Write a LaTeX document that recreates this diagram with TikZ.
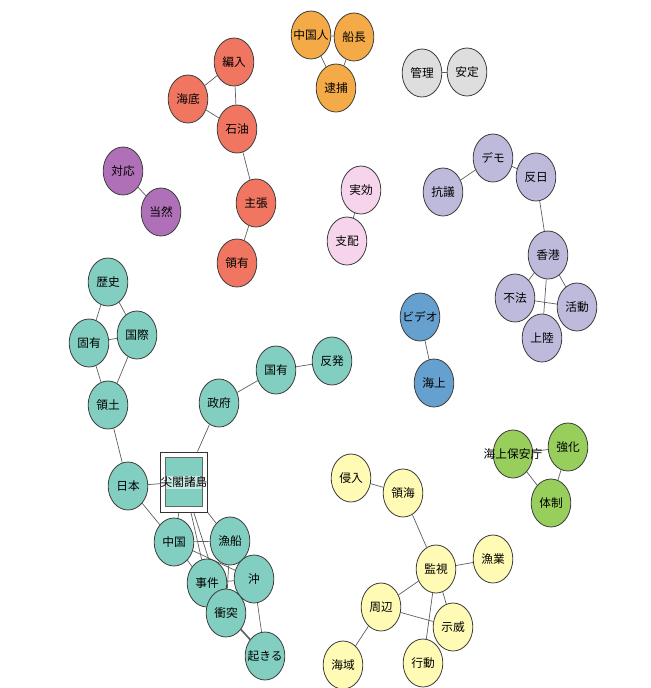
\documentclass[tikz,border=0pt]{standalone}
\usepackage{fontspec}
\newfontfamily\jpfont{Noto Sans CJK JP}
\definecolor{oilRed}{RGB}{240,118,98}
\definecolor{arrestOrange}{RGB}{245,170,72}
\definecolor{stableGray}{RGB}{222,222,222}
\definecolor{replyPurple}{RGB}{176,112,184}
\definecolor{rulePink}{RGB}{246,212,236}
\definecolor{demoLavender}{RGB}{190,186,220}
\definecolor{videoBlue}{RGB}{102,160,206}
\definecolor{islandTeal}{RGB}{130,206,192}
\definecolor{bandTeal}{RGB}{200,234,227}
\definecolor{guardGreen}{RGB}{152,206,92}
\definecolor{watchYellow}{RGB}{255,250,180}
\definecolor{edgeGray}{RGB}{95,95,95}
\usepackage{tikz}
\usetikzlibrary{shapes.geometric,backgrounds}

\begin{document}
\begin{tikzpicture}[x=0.03cm, y=-0.03cm,
    every node/.style={font=\jpfont\fontsize{10}{12}\selectfont},
    word/.style={ellipse, draw=black!75, line width=0.7pt,
      minimum width=1.19cm, minimum height=1.44cm, inner sep=0pt},
    wide/.style={inner xsep=-4.5pt},
    link/.style={draw=edgeGray, line width=0.6pt}
  ]
    \useasboundingbox (0,0) rectangle (651,688);
    % Oil cluster
    \node[word, fill=oilRed] (hennyu) at (234,62) {編入};
    \node[word, fill=oilRed] (kaitei) at (188,99) {海底};
    \node[word, fill=oilRed] (sekiyu) at (237,129) {石油};
    \node[word, fill=oilRed] (shucho) at (256,203) {主張};
    \node[word, fill=oilRed] (ryoyu) at (237,263) {領有};
    % Arrest cluster
    \node[word, fill=arrestOrange, wide] (chugokujin) at (311,35) {中国人};
    \node[word, fill=arrestOrange] (sencho) at (354,37) {船長};
    \node[word, fill=arrestOrange] (taiho) at (336,88) {逮捕};
    % Small pairs
    \node[word, fill=stableGray] (kanri) at (422,73) {管理};
    \node[word, fill=stableGray] (antei) at (467,72) {安定};
    \node[word, fill=replyPurple] (taio) at (123,171) {対応};
    \node[word, fill=replyPurple] (tozen) at (161,212) {当然};
    \node[word, fill=rulePink] (jikko) at (361,190) {実効};
    \node[word, fill=rulePink] (shihai) at (347,241) {支配};
    \node[word, fill=videoBlue, wide] (video) at (420,317) {ビデオ};
    \node[word, fill=videoBlue] (kaijo) at (434,383) {海上};
    % Protest cluster
    \node[word, fill=demoLavender] (kogi) at (443,192) {抗議};
    \node[word, fill=demoLavender] (demo) at (493,158) {デモ};
    \node[word, fill=demoLavender] (hannichi) at (536,177) {反日};
    \node[word, fill=demoLavender] (honkon) at (548,255) {香港};
    \node[word, fill=demoLavender] (fuho) at (515,298) {不法};
    \node[word, fill=demoLavender] (katsudo) at (577,307) {活動};
    \node[word, fill=demoLavender] (joriku) at (542,338) {上陸};
    % Island cluster
    \node[word, fill=islandTeal] (rekishi) at (108,282) {歴史};
    \node[word, fill=islandTeal] (koyu) at (89,343) {固有};
    \node[word, fill=islandTeal] (kokusai) at (137,335) {国際};
    \node[word, fill=islandTeal] (ryodo) at (108,405) {領土};
    \node[word, fill=islandTeal] (seifu) at (219,403) {政府};
    \node[word, fill=islandTeal] (kokuyu) at (276,370) {国有};
    \node[word, fill=islandTeal] (hanpatsu) at (332,361) {反発};
    \node[word, fill=islandTeal] (nihon) at (128,486) {日本};
    \node[draw=black!80, line width=0.7pt, fill=white,
          minimum width=1.4cm, minimum height=1.8cm,
          inner sep=0pt] (senkaku) at (184,482) {};
    \node[draw=black!60, line width=0.5pt, fill=islandTeal,
          minimum width=1.1cm, minimum height=1.46cm,
          inner sep=0pt] (senkakuInner) at (senkaku) {};
    \node[fill=bandTeal, minimum width=1.08cm, minimum height=0.39cm,
          inner sep=0pt] (senkakuBand) at (senkaku) {};
    \node[inner sep=0pt] (senkakuText) at (senkaku) {尖閣諸島};
    \node[word, fill=islandTeal] (chugoku) at (174,542) {中国};
    \node[word, fill=islandTeal] (gyosen) at (230,541) {漁船};
    \node[word, fill=islandTeal] (oki) at (254,579) {沖};
    \node[word, fill=islandTeal] (jiken) at (207,583) {事件};
    \node[word, fill=islandTeal] (shototsu) at (226,613) {衝突};
    \node[word, fill=islandTeal, wide] (okiru) at (265,656) {起きる};
    % Coast guard cluster
    \node[word, fill=guardGreen] (hoancho) at (513,454) {};
    \node[inner sep=0pt] (hoanchoText) at (hoancho) {海上保安庁};
    \node[word, fill=guardGreen] (kyoka) at (568,447) {強化};
    \node[word, fill=guardGreen] (taisei) at (551,503) {体制};
    % Watch cluster
    \node[word, fill=watchYellow] (shinnyu) at (351,478) {侵入};
    \node[word, fill=watchYellow] (ryokai) at (403,493) {領海};
    \node[word, fill=watchYellow] (kanshi) at (436,569) {監視};
    \node[word, fill=watchYellow] (gyogyo) at (493,559) {漁業};
    \node[word, fill=watchYellow] (shuhen) at (381,607) {周辺};
    \node[word, fill=watchYellow] (jii) at (453,627) {示威};
    \node[word, fill=watchYellow] (kodo) at (423,663) {行動};
    \node[word, fill=watchYellow] (kaiiki) at (343,665) {海域};
    % Links behind the words
    \begin{scope}[on background layer]
      \draw[link] (hennyu) -- (kaitei);
      \draw[link] (hennyu) -- (sekiyu);
      \draw[link] (kaitei) -- (sekiyu);
      \draw[link] (sekiyu) -- (shucho);
      \draw[link] (shucho) -- (ryoyu);
      \draw[link] (chugokujin) -- (sencho);
      \draw[link] (chugokujin) -- (taiho);
      \draw[link] (sencho) -- (taiho);
      \draw[link] (kanri) -- (antei);
      \draw[link] (taio) -- (tozen);
      \draw[link] (jikko) -- (shihai);
      \draw[link] (video) -- (kaijo);
      \draw[link] (kogi) -- (demo);
      \draw[link] (demo) -- (hannichi);
      \draw[link] (hannichi) -- (honkon);
      \draw[link] (honkon) -- (fuho);
      \draw[link] (honkon) -- (katsudo);
      \draw[link] (honkon) -- (joriku);
      \draw[link] (fuho) -- (katsudo);
      \draw[link] (rekishi) -- (koyu);
      \draw[link] (rekishi) -- (kokusai);
      \draw[link] (koyu) -- (kokusai);
      \draw[link] (koyu) -- (ryodo);
      \draw[link] (kokusai) -- (ryodo);
      \draw[link] (ryodo) -- (nihon);
      \draw[link] (nihon) -- (senkaku);
      \draw[link] (nihon) -- (chugoku);
      \draw[link] (senkaku) -- (seifu);
      \draw[link] (seifu) -- (kokuyu);
      \draw[link] (kokuyu) -- (hanpatsu);
      \draw[link] (senkaku) -- (chugoku);
      \draw[link] (senkaku) -- (gyosen);
      \draw[link] (senkaku) -- (jiken);
      \draw[link] (senkaku) -- (shototsu);
      \draw[link] (chugoku) -- (gyosen);
      \draw[link] (chugoku) -- (oki);
      \draw[link] (chugoku) -- (shototsu);
      \draw[link] (gyosen) -- (shototsu);
      \draw[link] (jiken) -- (oki);
      \draw[link] (oki) -- (okiru);
      \draw[link, line width=1.4pt] (shototsu) -- (okiru);
      \draw[link] (hoancho) -- (kyoka);
      \draw[link] (hoancho) -- (taisei);
      \draw[link] (kyoka) -- (taisei);
      \draw[link] (shinnyu) -- (ryokai);
      \draw[link] (ryokai) -- (kanshi);
      \draw[link] (kanshi) -- (gyogyo);
      \draw[link] (kanshi) -- (shuhen);
      \draw[link] (kanshi) -- (jii);
      \draw[link] (kanshi) -- (kodo);
      \draw[link] (shuhen) -- (jii);
      \draw[link] (shuhen) -- (kaiiki);
    \end{scope}
  \end{tikzpicture}
\end{document}
